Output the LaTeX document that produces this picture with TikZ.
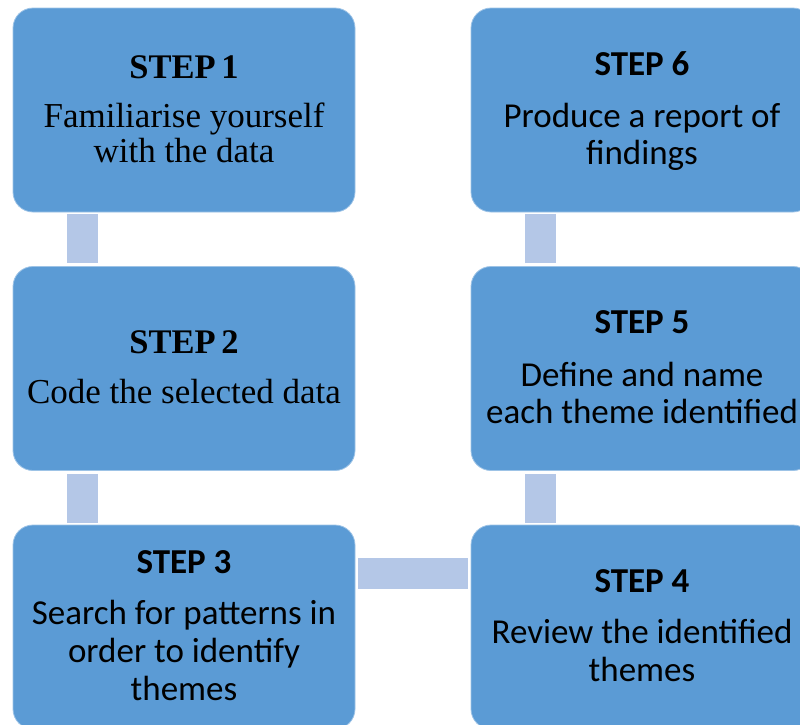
\documentclass[tikz,border=0pt]{standalone}
\usepackage{fontspec}
\setmainfont{Liberation Serif}
\newfontfamily\calfont{Carlito}
\definecolor{boxblue}{HTML}{5B9BD5}
\definecolor{connblue}{HTML}{B4C7E7}
\begin{document}
\begin{tikzpicture}[x=1pt,y=-1pt,
  stepbox/.style={fill=boxblue,draw=boxblue!60!white,line width=0.8pt,rounded corners=20pt,minimum width=342pt,minimum height=204pt,inner sep=0pt},
  conn/.style={draw=connblue,line width=31pt},
  serifttl/.style={anchor=base,inner sep=0pt,font=\fontsize{34.5}{37}\selectfont\bfseries},
  seriftxt/.style={anchor=base,inner sep=0pt,font=\fontsize{35}{37}\selectfont},
  calttl/.style={anchor=base,inner sep=0pt,font=\calfont\fontsize{35}{37}\selectfont\bfseries},
  caltxt/.style={anchor=base,inner sep=0pt,font=\calfont\fontsize{35}{37}\selectfont}]
\useasboundingbox (0,0) rectangle (800,724);
\begin{scope}
\clip (0,0) rectangle (800,724);
% boxes
\node[stepbox] (b1) at (184,110) {};
\node[stepbox] (b2) at (184,368.5) {};
\node[stepbox] (b3) at (184,627) {};
\node[stepbox] (b4) at (642,627) {};
\node[stepbox] (b5) at (642,368.5) {};
\node[stepbox] (b6) at (642,110) {};
% connectors
\draw[conn] ([xshift=-102pt,yshift=-2pt]b1.south) -- ([xshift=-102pt,yshift=3pt]b2.north);
\draw[conn] ([xshift=-102pt,yshift=-3pt]b2.south) -- ([xshift=-102pt,yshift=2pt]b3.north);
\draw[conn] ([xshift=3pt,yshift=-49pt]b3.north east) -- ([xshift=-3pt,yshift=-49pt]b4.north west);
\draw[conn] ([xshift=-102pt,yshift=2pt]b4.north) -- ([xshift=-102pt,yshift=-3pt]b5.south);
\draw[conn] ([xshift=-102pt,yshift=3pt]b5.north) -- ([xshift=-102pt,yshift=-2pt]b6.south);
\end{scope}
% texts
\node[serifttl] (t1) at (184,78) {STEP\,1};
\node[seriftxt] (t1a) at (184,127) {Familiarise yourself};
\node[seriftxt] (t1b) at (184,162) {with the data};
\node[serifttl] (t2) at (184,353) {STEP\,2};
\node[seriftxt] (t2a) at (184,403) {Code the selected data};
\node[calttl] (t3) at (184,573) {STEP 3};
\node[caltxt] (t3a) at (184,624) {Search for patterns in};
\node[caltxt] (t3b) at (184,662) {order to identify};
\node[caltxt] (t3c) at (184,700) {themes};
\node[calttl] (t4) at (642,592) {STEP 4};
\node[caltxt] (t4a) at (642,643) {Review the identified};
\node[caltxt] (t4b) at (642,681) {themes};
\node[calttl] (t5) at (642,333) {STEP 5};
\node[caltxt] (t5a) at (642,386) {Define and name};
\node[caltxt] (t5b) at (642,423) {each theme identified};
\node[calttl] (t6) at (642,75) {STEP 6};
\node[caltxt] (t6a) at (642,127) {Produce a report of};
\node[caltxt] (t6b) at (642,164) {findings};
\end{tikzpicture}
\end{document}
